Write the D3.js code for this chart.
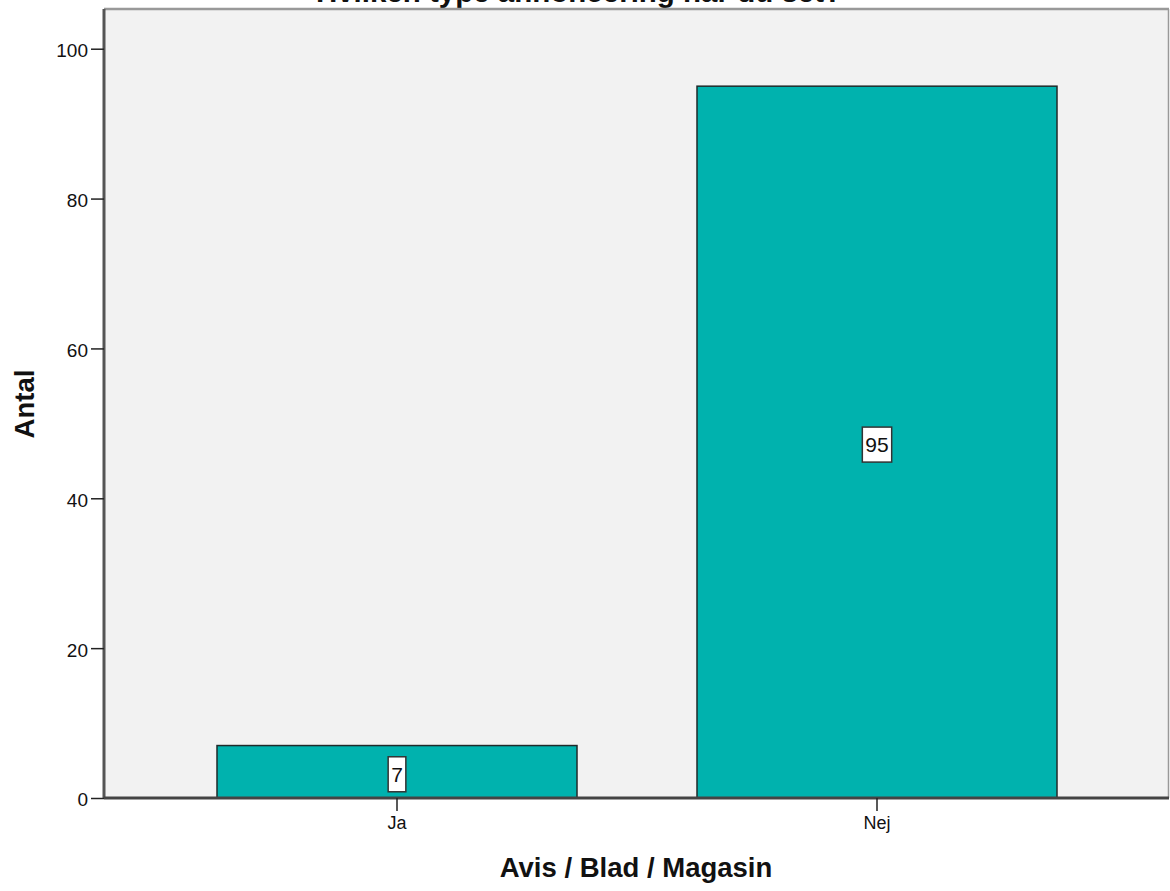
<!DOCTYPE html>
<html>
<head>
<meta charset="utf-8">
<script src="https://cdn.jsdelivr.net/npm/d3@7"></script>
<style>
  html, body { margin: 0; padding: 0; background: #ffffff; }
  svg { display: block; font-family: Arial, "Liberation Sans", sans-serif; }
</style>
</head>
<body>
<svg id="chart" width="1170" height="891"></svg>
<script>
const categories = ["Ja", "Nej"];
const counts = [7, 95];
const yTicks = [0, 20, 40, 60, 80, 100];
const titleText = "Hvilken type annoncering har du set?";
const xTitle = "Avis / Blad / Magasin";
const yTitle = "Antal";

const FONT = "Arial, 'Liberation Sans', sans-serif";
const svg = d3.select("#chart");
const plot = { left: 104, top: 9, right: 1169, bottom: 798 };

const y = d3.scaleLinear().domain([0, 105.3]).range([plot.bottom, plot.top]);
const x = d3.scaleBand().domain(categories).range([157, 1117])
  .paddingInner(0.25).paddingOuter(0.125);

// title (clipped at top, as in the reference)
svg.append("text")
  .attr("x", 579).attr("y", 1.5)
  .attr("text-anchor", "middle").attr("font-size", 29.5).attr("font-weight", "bold")
  .attr("font-family", FONT).attr("fill", "#111").text(titleText);

// plot background
svg.append("rect")
  .attr("x", plot.left).attr("y", plot.top)
  .attr("width", plot.right - plot.left).attr("height", plot.bottom - plot.top)
  .attr("fill", "#f2f2f2");

// frame top / right
svg.append("line").attr("x1", plot.left).attr("x2", plot.right)
  .attr("y1", plot.top).attr("y2", plot.top)
  .attr("stroke", "#999999").attr("stroke-width", 2.5);
svg.append("line").attr("x1", plot.right - 0.5).attr("x2", plot.right - 0.5)
  .attr("y1", plot.top).attr("y2", plot.bottom)
  .attr("stroke", "#999999").attr("stroke-width", 1.5);

// bars
svg.selectAll("rect.bar").data(categories).enter().append("rect")
  .attr("class", "bar")
  .attr("x", d => x(d))
  .attr("y", (d, i) => y(counts[i]))
  .attr("width", x.bandwidth())
  .attr("height", (d, i) => y(0) - y(counts[i]))
  .attr("fill", "#00b2ae")
  .attr("stroke", "#1f2a2a").attr("stroke-width", 1.5);

// value labels
categories.forEach((c, i) => {
  const cx = x(c) + x.bandwidth() / 2;
  const cy = y(counts[i] / 2) + 2;
  const g = svg.append("g");
  const t = g.append("text")
    .attr("x", cx).attr("y", cy + 8)
    .attr("text-anchor", "middle")
    .attr("font-size", 21).attr("fill", "#111").attr("font-family", FONT)
    .text(counts[i]);
  const bb = t.node().getBBox();
  g.insert("rect", "text")
    .attr("x", bb.x - 3).attr("y", cy - 17)
    .attr("width", bb.width + 6).attr("height", 35)
    .attr("fill", "#ffffff").attr("stroke", "#333").attr("stroke-width", 1.5);
});

// y axis
const yAxis = d3.axisLeft(y).tickValues(yTicks).tickSize(13).tickPadding(3);
const yg = svg.append("g").attr("transform", `translate(${plot.left},0)`).call(yAxis);
yg.attr("font-size", null).attr("font-family", null);
yg.select(".domain").attr("stroke", "#555").attr("stroke-width", 3)
  .attr("d", `M0,${plot.top}V${plot.bottom}`);
yg.selectAll(".tick line").attr("stroke", "#222").attr("stroke-width", 1.5);
yg.selectAll(".tick text").attr("font-size", 19).attr("fill", "#111")
  .attr("font-family", FONT).attr("dy", "0.42em");

// x axis
const xAxis = d3.axisBottom(x).tickSize(13).tickPadding(5);
const xg = svg.append("g").attr("transform", `translate(0,${plot.bottom})`).call(xAxis);
xg.attr("font-size", null).attr("font-family", null);
xg.select(".domain").attr("stroke", "#444").attr("stroke-width", 3)
  .attr("d", `M${plot.left},0H${plot.right}`);
xg.selectAll(".tick line").attr("stroke", "#222").attr("stroke-width", 1.5);
xg.selectAll(".tick text").attr("font-size", 18).attr("fill", "#111")
  .attr("font-family", FONT);

// axis titles
svg.append("text")
  .attr("x", 636).attr("y", 877)
  .attr("text-anchor", "middle").attr("font-size", 27.5).attr("font-weight", "bold")
  .attr("font-family", FONT).attr("fill", "#111").text(xTitle);
svg.append("text")
  .attr("transform", "translate(34,404) rotate(-90)")
  .attr("text-anchor", "middle").attr("font-size", 27.5).attr("font-weight", "bold")
  .attr("font-family", FONT).attr("fill", "#111").text(yTitle);
</script>
</body>
</html>
